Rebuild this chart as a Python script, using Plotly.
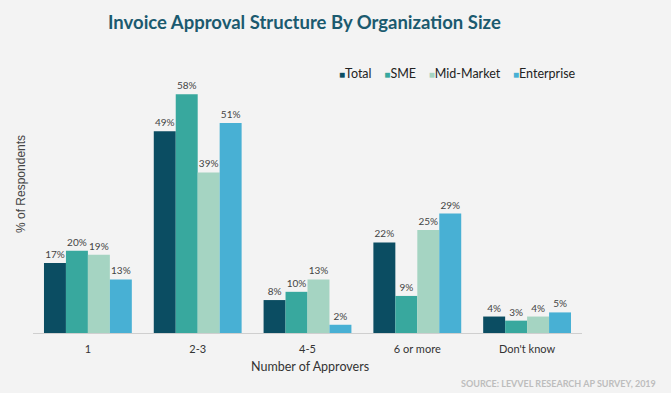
import plotly.graph_objects as go

categories = ["1", "2-3", "4-5", "6 or more", "Don't know"]
total = [17, 49, 8, 22, 4]
sme = [20, 58, 10, 9, 3]
mid_market = [19, 39, 13, 25, 4]
enterprise = [13, 51, 2, 29, 5]

series_names = ["Total", "SME", "Mid-Market", "Enterprise"]
series_values = [total, sme, mid_market, enterprise]
series_colors = ["#0b4d62", "#38a89e", "#a5d4c2", "#48b0d4"]

FONT = "Lato"
BG = "#f3f3f3"
fig = go.Figure()
for name, vals, color in zip(series_names, series_values, series_colors):
    fig.add_trace(go.Bar(
        x=categories, y=vals, name=name,
        marker=dict(color=color, line=dict(width=0)),
        text=[f"{v}%" for v in vals], textposition="outside",
        textfont=dict(family=FONT, size=10, color="#444444"),
        cliponaxis=False, showlegend=False,
    ))

legend_text = "&nbsp;&nbsp;&nbsp;&nbsp;".join(
    f"<span style='color:{c};font-size:10px'>■</span>{n}" for n, c in zip(series_names, series_colors)
)

L, R, T, B = 33, 89, 60, 60
PW, PH = 671 - L - R, 393 - T - B


def px(xp):
    return (xp - L) / PW


def py(yp):
    return (393 - B - yp) / PH


fig.update_layout(
    width=671, height=393,
    paper_bgcolor=BG, plot_bgcolor=BG,
    margin=dict(l=L, r=R, t=T, b=B),
    barmode="group", bargap=0.2, bargroupgap=0,
    font=dict(family=FONT, color="#333333"),
    showlegend=False,
    xaxis=dict(showgrid=False, showline=True, linecolor="#cfcfcf", linewidth=1,
               ticks="", ticklabelstandoff=6, tickfont=dict(family=FONT, size=11, color="#333333")),
    yaxis=dict(range=[0, 66.3], showgrid=False, showticklabels=False, zeroline=False,
               showline=False, ticks=""),
    annotations=[
        dict(text="<b>Invoice Approval Structure By Organization Size</b>", xref="paper", yref="paper",
             x=px(304), y=py(22), xanchor="center", yanchor="middle", showarrow=False,
             font=dict(family=FONT, size=18.5, color="#1b5a6f")),
        dict(text=legend_text, xref="paper", yref="paper",
             x=px(578), y=py(73), xanchor="right", yanchor="middle", showarrow=False,
             font=dict(family=FONT, size=12.5, color="#222222")),
        dict(text="% of Respondents", xref="paper", yref="paper", textangle=-90,
             x=px(21), y=py(184), xanchor="center", yanchor="middle", showarrow=False,
             font=dict(family="Liberation Sans", size=12, color="#444444")),
        dict(text="Number of Approvers", xref="paper", yref="paper",
             x=px(310), y=py(366), xanchor="center", yanchor="middle", showarrow=False,
             font=dict(family=FONT, size=12.5, color="#333333")),
        dict(text="<b>SOURCE: LEVVEL RESEARCH AP SURVEY, 2019</b>", xref="paper", yref="paper",
             x=px(658), y=py(383), xanchor="right", yanchor="middle", showarrow=False,
             font=dict(family=FONT, size=9, color="#bdbdbd")),
    ],
)

fig.write_html(
    "out.html",
    config={"displayModeBar": False},
    post_script=f"document.body.style.margin='0';document.body.style.background='{BG}';",
)
